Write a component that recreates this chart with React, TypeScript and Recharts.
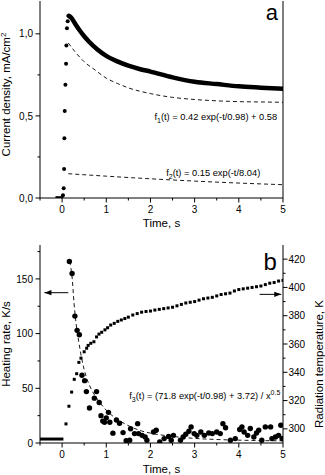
import { ComposedChart, Line, Scatter, XAxis, YAxis, ReferenceDot, ReferenceLine } from "recharts";

// panel a: current density
const tRise = [0.02, 0.036, 0.045, 0.052, 0.06, 0.075, 0.09, 0.097, 0.11, 0.127];
const jRise = [0.016, 0.06, 0.176, 0.364, 0.53, 0.69, 0.818, 0.929, 1.034, 1.076];
const tBaseA = [-0.15, 0.03];
const jBaseA = [0.005, 0.005];
const tCurr = [0.15, 0.2, 0.3, 0.4, 0.5, 0.6, 0.8, 1.0, 1.25, 1.5, 1.75, 2.0, 2.5, 3.0, 3.5, 4.0, 4.5, 5.0];
const jCurr = [1.11, 1.1, 1.06, 1.02, 0.985, 0.955, 0.905, 0.866, 0.832, 0.806, 0.786, 0.77, 0.735, 0.708, 0.694, 0.68, 0.672, 0.665];
const tFit1 = [0.14, 0.3, 0.5, 0.75, 1.0, 1.25, 1.5, 2.0, 2.5, 3.0, 3.5, 4.0, 4.5, 5.0];
const jFit1 = [0.944, 0.889, 0.83, 0.779, 0.73, 0.698, 0.671, 0.636, 0.613, 0.6, 0.592, 0.587, 0.585, 0.583];
const tFit2 = [0.14, 1, 2, 3, 4, 5];
const jFit2 = [0.148, 0.133, 0.117, 0.103, 0.091, 0.081];

// panel b: heating rate and radiation temperature
const tHeat = [0.165, 0.226, 0.29, 0.34, 0.39, 0.45, 0.51, 0.55, 0.62, 0.73, 0.78, 0.84, 0.88, 0.92, 0.96, 1.0, 1.05, 1.08, 1.15, 1.23, 1.3, 1.38, 1.45, 1.53, 1.55, 1.64, 1.71, 1.73, 1.81, 1.88, 1.92, 2.07, 2.13, 2.21, 2.31, 2.41, 2.47, 2.52, 2.68, 2.74, 2.8, 2.87, 2.92, 2.99, 3.05, 3.14, 3.22, 3.32, 3.4, 3.5, 3.58, 3.64, 3.7, 3.81, 3.92, 4.02, 4.07, 4.12, 4.2, 4.26, 4.34, 4.4, 4.45, 4.52, 4.6, 4.72, 4.75, 4.83, 4.9, 4.95, 4.98];
const heat = [166, 155, 116, 103, 99, 62, 57, 47, 32, 41, 47, 37, 25, 20, 19, 23, 28, 19, 9, 21, 18, 9.5, 2, 2.5, 13, 8.6, 17.7, 8.6, 7, 5.5, 2.5, 10, 11.6, 1, 4, 6, 2.5, 7, 2.5, 5.5, 8, 10.7, 14.7, 8.6, 7, 10, 7, 9.2, 8.6, 10, 8.6, 17.7, 14, 2.5, 4, 12.3, 14.7, 10, 7, 13.2, 5.5, 9.2, 11.6, 2.5, 14.7, 14.7, 4, 5.5, 7, 16.2, 4];
const tFit3 = [0.165, 0.2, 0.23, 0.27, 0.32, 0.38, 0.45, 0.55, 0.65, 0.8, 1.0, 1.2, 1.4, 1.6, 1.8, 2.0, 2.4, 3.0, 3.5, 4.0, 4.5, 5.0];
const heatFit3 = [166, 160, 150, 128, 108, 92, 76, 60, 50, 40, 30, 23, 18, 14, 11, 9, 6.5, 4.2, 3.2, 2.6, 2.2, 2];
const tTemp = [0.088, 0.155, 0.216, 0.275, 0.33, 0.38, 0.427, 0.5, 0.556, 0.59, 0.65, 0.72, 0.78, 0.835, 0.896, 0.97, 1.03, 1.1, 1.18, 1.26, 1.34, 1.42, 1.5, 1.6, 1.7, 1.8, 1.9, 2.0, 2.1, 2.2, 2.3, 2.4, 2.5, 2.6, 2.7, 2.8, 2.9, 3.0, 3.1, 3.2, 3.3, 3.4, 3.5, 3.6, 3.7, 3.8, 3.9, 4.0, 4.1, 4.2, 4.3, 4.4, 4.5, 4.6, 4.7, 4.8, 4.9, 5.0];
const temp = [303.5, 316, 326, 335, 339, 347, 350, 354.5, 357, 359, 360.5, 361.6, 365, 367, 368.3, 370, 371.5, 373.4, 374.6, 376, 377, 378, 379, 380.5, 381.5, 382.5, 383, 383.3, 384, 384.5, 385, 385.5, 386, 387, 388, 389, 389.5, 390, 391, 392, 392.5, 393, 394, 395, 395.5, 396, 397.5, 398.5, 399, 399.5, 400, 400.5, 401, 402, 403, 403.5, 404.5, 405];
const tBaseB = [-0.5, 0.03];
const tempBase = [292.8, 292.8];

const xTicks = [-0.5, 0, 0.5, 1, 1.5, 2, 2.5, 3, 3.5, 4, 4.5, 5];
const jTicks = [0, 0.25, 0.5, 0.75, 1.0];
const heatTicks = [0, 25, 50, 75, 100, 125, 150, 175];
const tempTicks = [300, 310, 320, 330, 340, 350, 360, 370, 380, 390, 400, 410, 420];

const pts = (xs: number[], ys: number[]) => xs.map((x, i) => ({ x, y: ys[i] }));

const FS = 10;

const XTick = (p: any) => {
  const v = p.payload.value;
  const major = Math.abs(v - Math.round(v)) < 1e-9;
  return (
    <g>
      <line x1={p.x} x2={p.x} y1={p.y} y2={p.y + (major ? 4.5 : 2.5)} stroke="#000" />
      {major && v >= 0 && (
        <text x={p.x} y={p.y + 15} textAnchor="middle" fontSize={FS} fill="#000">{v}</text>
      )}
    </g>
  );
};

const leftTick = (isMajor: (v: number) => boolean, fmt: (v: number) => string) => (p: any) => {
  const v = p.payload.value;
  const major = isMajor(v);
  return (
    <g>
      <line x1={p.x - (major ? 4.5 : 2.5)} x2={p.x} y1={p.y} y2={p.y} stroke="#000" />
      {major && (
        <text x={p.x - 7} y={p.y + 3.6} textAnchor="end" fontSize={FS} fill="#000">{fmt(v)}</text>
      )}
    </g>
  );
};

const RightTick = (p: any) => {
  const v = p.payload.value;
  const major = v % 20 === 0;
  return (
    <g>
      <line x1={p.x} x2={p.x + (major ? 4.5 : 2.5)} y1={p.y} y2={p.y} stroke="#000" />
      {major && (
        <text x={p.x + 5.5} y={p.y + 3.6} textAnchor="start" fontSize={FS} fill="#000">{v}</text>
      )}
    </g>
  );
};

const VTitle = (props: any) => {
  const { viewBox, cx, shift = 0, children } = props;
  const x = viewBox.x + cx + 4;
  const y = viewBox.y + viewBox.height / 2 + shift;
  return (
    <text x={x} y={y} transform={`rotate(-90 ${x} ${y})`} textAnchor="middle" fontSize={11.5} fill="#000">
      {children}
    </text>
  );
};

const Note = (content: any, size = 9.3, base = 3.3) => (p: any) => (
  <text x={p.cx} y={p.cy + base} textAnchor="middle" fontSize={size} fill="#000">{content}</text>
);

const Dot = (r: number) => (p: any) => <circle cx={p.cx} cy={p.cy} r={r} fill="#000" />;
const Sq = (p: any) => <rect x={p.cx - 1.5} y={p.cy - 1.5} width={3} height={3} fill="#000" />;
const HeadLeft = (p: any) => <path d={`M${p.cx},${p.cy} l7,-2.6 l0,5.2 z`} fill="#000" />;
const HeadRight = (p: any) => <path d={`M${p.cx},${p.cy} l-7,-2.6 l0,5.2 z`} fill="#000" />;

const fmtJ = (v: number) => v.toFixed(1).replace(".", ",");

const PanelA = () => (
  <ComposedChart width={325} height={235} margin={{ top: 1, right: 0, bottom: 0, left: 0 }}>
    <XAxis dataKey="x" type="number" domain={[-0.5, 5]} ticks={xTicks} interval={0} height={37}
      tickSize={0} tickMargin={0} tickLine={false} tick={XTick} stroke="#000" allowDataOverflow
      label={{ value: "Time, s", position: "insideBottom", offset: 8, fontSize: 11.5, fill: "#000" }} />
    <XAxis xAxisId="top" orientation="top" dataKey="x" type="number" domain={[-0.5, 5]} height={0} tick={false} tickLine={false} stroke="#000" />
    <YAxis yAxisId="j" dataKey="y" type="number" domain={[0, 1.2]} ticks={jTicks} interval={0} width={40}
      tickSize={0} tickMargin={0} tickLine={false} tick={leftTick((v) => Math.abs(v * 2 - Math.round(v * 2)) < 1e-9, fmtJ)}
      stroke="#000" allowDataOverflow
      label={<VTitle cx={6} shift={-5}><tspan>Current density, mA/cm</tspan><tspan dy={-4} fontSize={8}>2</tspan></VTitle>} />
    <YAxis yAxisId="r" orientation="right" type="number" domain={[0, 1.2]} width={42} tick={false} tickLine={false} stroke="#000" />
    <Line yAxisId="j" data={pts(tBaseA, jBaseA)} dataKey="y" stroke="#000" strokeWidth={2} dot={false} isAnimationActive={false} />
    <Line yAxisId="j" data={pts(tFit1, jFit1)} dataKey="y" type="monotone" stroke="#000" strokeWidth={0.9} strokeDasharray="4 3" dot={false} isAnimationActive={false} />
    <Line yAxisId="j" data={pts(tFit2, jFit2)} dataKey="y" type="monotone" stroke="#000" strokeWidth={0.9} strokeDasharray="4 3" dot={false} isAnimationActive={false} />
    <Line yAxisId="j" data={pts(tCurr, jCurr)} dataKey="y" type="monotone" stroke="#000" strokeWidth={4.5} strokeLinecap="round" dot={false} isAnimationActive={false} />
    <Scatter yAxisId="j" data={pts(tRise, jRise)} dataKey="y" shape={Dot(2)} isAnimationActive={false} />
    <ReferenceDot yAxisId="j" x={3.48} y={0.495} r={0}
      shape={Note(<><tspan>f</tspan><tspan dy={2.5} fontSize={7}>1</tspan><tspan dy={-2.5}>(t) = 0.42 exp(-t/0.98) + 0.58</tspan></>)} />
    <ReferenceDot yAxisId="j" x={3.42} y={0.154} r={0}
      shape={Note(<><tspan>f</tspan><tspan dy={2.5} fontSize={7}>2</tspan><tspan dy={-2.5}>(t) = 0.15 exp(-t/8.04)</tspan></>)} />
    <ReferenceDot yAxisId="j" x={4.75} y={1.085} r={0} shape={Note("a", 22, 0)} />
  </ComposedChart>
);

const PanelB = () => (
  <ComposedChart width={325} height={240} margin={{ top: 10, right: 0, bottom: 0, left: 0 }}>
    <XAxis dataKey="x" type="number" domain={[-0.5, 5]} ticks={xTicks} interval={0} height={32}
      tickSize={0} tickMargin={0} tickLine={false} tick={XTick} stroke="#000" allowDataOverflow
      label={{ value: "Time, s", position: "insideBottom", offset: 2, fontSize: 11.5, fill: "#000" }} />
    <XAxis xAxisId="top" orientation="top" dataKey="x" type="number" domain={[-0.5, 5]} height={0} tick={false} tickLine={false} stroke="#000" />
    <YAxis yAxisId="h" dataKey="y" type="number" domain={[0, 181]} ticks={heatTicks} interval={0} width={40}
      tickSize={0} tickMargin={0} tickLine={false} tick={leftTick((v) => v % 50 === 0, (v) => String(v))}
      stroke="#000" allowDataOverflow
      label={<VTitle cx={6}>Heating rate, K/s</VTitle>} />
    <YAxis yAxisId="T" orientation="right" dataKey="y" type="number" domain={[290, 430]} ticks={tempTicks} interval={0} width={42}
      tickSize={0} tickMargin={0} tickLine={false} tick={RightTick} stroke="#000" allowDataOverflow
      label={<VTitle cx={36} shift={20}>Radiation temperature, K</VTitle>} />
    <Line yAxisId="T" data={pts(tBaseB, tempBase)} dataKey="y" stroke="#000" strokeWidth={3} dot={false} isAnimationActive={false} />
    <Line yAxisId="h" data={pts(tFit3, heatFit3)} dataKey="y" type="monotone" stroke="#000" strokeWidth={0.9} strokeDasharray="4 3" dot={false} isAnimationActive={false} />
    <Scatter yAxisId="T" data={pts(tTemp, temp)} dataKey="y" shape={Sq} isAnimationActive={false} />
    <Scatter yAxisId="h" data={pts(tHeat, heat)} dataKey="y" shape={Dot(2.7)} isAnimationActive={false} />
    <ReferenceLine yAxisId="h" segment={[{ x: -0.4, y: 137.4 }, { x: 0.14, y: 137.4 }]} stroke="#000" strokeWidth={1} />
    <ReferenceDot yAxisId="h" x={-0.4} y={137.4} r={0} shape={HeadLeft} />
    <ReferenceLine yAxisId="T" segment={[{ x: 4.47, y: 395.1 }, { x: 4.96, y: 395.1 }]} stroke="#000" strokeWidth={1} />
    <ReferenceDot yAxisId="T" x={4.96} y={395.1} r={0} shape={HeadRight} />
    <ReferenceDot yAxisId="h" x={3.23} y={43} r={0}
      shape={Note(<><tspan>f</tspan><tspan dy={2.5} fontSize={7}>3</tspan><tspan dy={-2.5}>(t) = (71.8 exp(-t/0.98) + 3.72) / x</tspan><tspan dy={-4} fontSize={7}>0.5</tspan></>)} />
    <ReferenceDot yAxisId="h" x={4.71} y={158} r={0} shape={Note("b", 24, 0)} />
  </ComposedChart>
);

export default function App() {
  return (
    <div style={{ position: "absolute", left: 0, top: 0, width: 325, height: 475, background: "#fff", fontFamily: "'Liberation Sans', Arial, sans-serif" }}>
      <PanelA />
      <PanelB />
    </div>
  );
}
